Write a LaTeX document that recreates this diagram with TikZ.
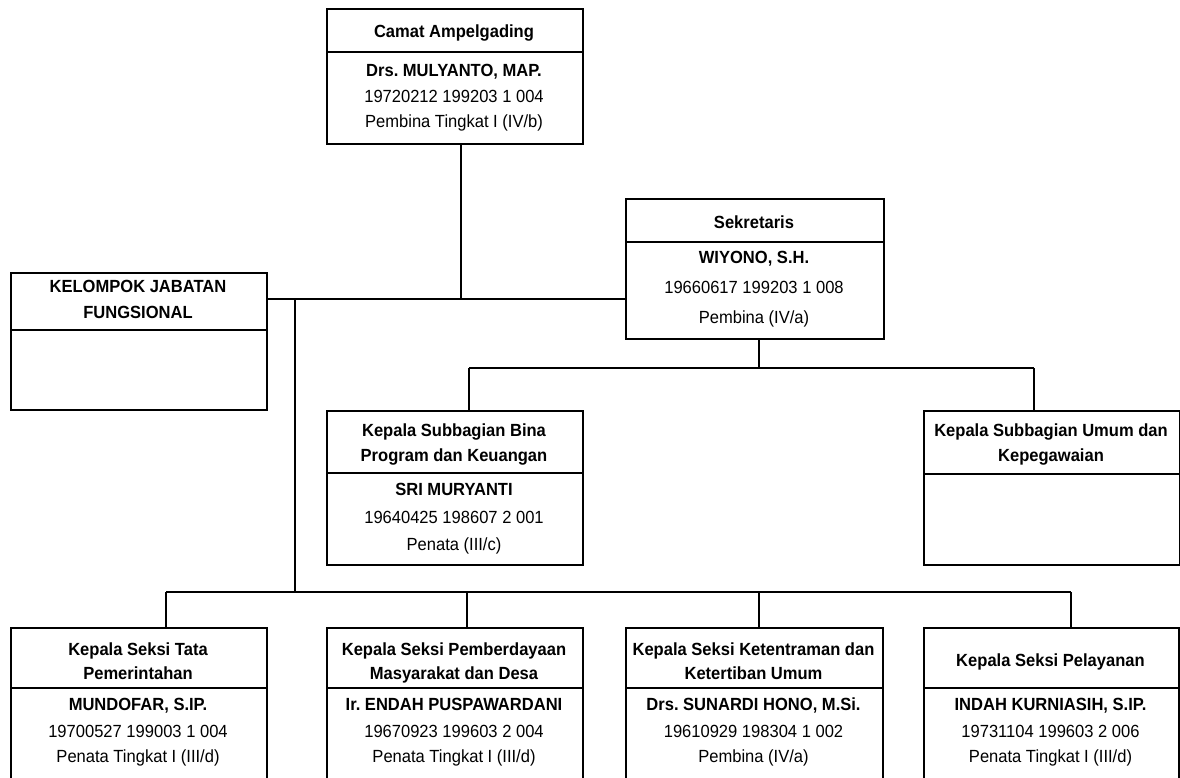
\documentclass[tikz,border=0pt]{standalone}
\usepackage{fontspec}
\setmainfont[FakeStretch=0.94]{Liberation Sans}
\frenchspacing
\begin{document}
\begin{tikzpicture}[x=1pt,y=-1pt,
  box/.style={draw,line width=2pt,inner sep=0pt,anchor=north west},
  divline/.style={line width=2pt},
  conn/.style={line width=1.4pt},
  hd/.style={anchor=base,inner sep=0pt,font=\fontsize{17.6}{20}\selectfont\bfseries},
  tx/.style={anchor=base,inner sep=0pt,font=\fontsize{17.6}{20}\selectfont}]
\useasboundingbox (0,0) rectangle (1180,778);
\fill[white] (0,0) rectangle (1180,778);

% Camat
\node[box,minimum width=256pt,minimum height=135pt] (camat) at (326,8) {};
\draw[divline] (326,52) -- (582,52);
\node[hd] (camatH) at (454,38) {Camat Ampelgading};
\node[hd] (camatA) at (454,77) {Drs. MULYANTO, MAP.};
\node[tx] (camatB) at (454,103) {19720212 199203 1 004};
\node[tx] (camatC) at (454,128) {Pembina Tingkat I (IV/b)};

% Sekretaris
\node[box,minimum width=258pt,minimum height=140pt] (sek) at (625,198) {};
\draw[divline] (625,242) -- (883,242);
\node[hd] (sekH) at (754,228) {Sekretaris};
\node[hd] (sekA) at (754,263) {WIYONO, S.H.};
\node[tx] (sekB) at (754,293) {19660617 199203 1 008};
\node[tx] (sekC) at (754,323) {Pembina (IV/a)};

% Kelompok
\node[box,minimum width=256pt,minimum height=137pt] (kel) at (10,272) {};
\draw[divline] (10,330) -- (266,330);
\node[hd] (kelH1) at (138,292) {KELOMPOK JABATAN};
\node[hd] (kelH2) at (138,318) {FUNGSIONAL};

% Bina Program
\node[box,minimum width=256pt,minimum height=154pt] (bina) at (326,410) {};
\draw[divline] (326,473) -- (582,473);
\node[hd] (binaH1) at (454,436) {Kepala Subbagian Bina};
\node[hd] (binaH2) at (454,461) {Program dan Keuangan};
\node[hd] (binaA) at (454,495) {SRI MURYANTI};
\node[tx] (binaB) at (454,523) {19640425 198607 2 001};
\node[tx] (binaC) at (454,550) {Penata (III/c)};

% Umum
\node[box,minimum width=256pt,minimum height=154pt] (umum) at (923,410) {};
\draw[divline] (923,474) -- (1179,474);
\node[hd] (umumH1) at (1051,436) {Kepala Subbagian Umum dan};
\node[hd] (umumH2) at (1051,461) {Kepegawaian};

% Bottom row
\node[box,minimum width=256pt,minimum height=156pt] (s1) at (10,627) {};
\node[box,minimum width=256pt,minimum height=156pt] (s2) at (326,627) {};
\node[box,minimum width=257pt,minimum height=156pt] (s3) at (625,627) {};
\node[box,minimum width=255pt,minimum height=156pt] (s4) at (923,627) {};
\draw[divline] (10,688) -- (266,688);
\draw[divline] (326,688) -- (582,688);
\draw[divline] (625,688) -- (882,688);
\draw[divline] (923,688) -- (1178,688);

\node[hd] (s1H1) at (138,655) {Kepala Seksi Tata};
\node[hd] (s1H2) at (138,679) {Pemerintahan};
\node[hd] (s1A) at (138,710) {MUNDOFAR, S.IP.};
\node[tx] (s1B) at (138,737) {19700527 199003 1 004};
\node[tx] (s1C) at (138,762) {Penata Tingkat I (III/d)};

\node[hd] (s2H1) at (454,655) {Kepala Seksi Pemberdayaan};
\node[hd] (s2H2) at (454,679) {Masyarakat dan Desa};
\node[hd] (s2A) at (454,710) {Ir. ENDAH PUSPAWARDANI};
\node[tx] (s2B) at (454,737) {19670923 199603 2 004};
\node[tx] (s2C) at (454,762) {Penata Tingkat I (III/d)};

\node[hd] (s3H1) at (753.5,655) {Kepala Seksi Ketentraman dan};
\node[hd] (s3H2) at (753.5,679) {Ketertiban Umum};
\node[hd] (s3A) at (753.5,710) {Drs. SUNARDI HONO, M.Si.};
\node[tx] (s3B) at (753.5,737) {19610929 198304 1 002};
\node[tx] (s3C) at (753.5,762) {Pembina (IV/a)};

\node[hd] (s4H) at (1050.5,666) {Kepala Seksi Pelayanan};
\node[hd] (s4A) at (1050.5,710) {INDAH KURNIASIH, S.IP.};
\node[tx] (s4B) at (1050.5,737) {19731104 199603 2 006};
\node[tx] (s4C) at (1050.5,762) {Penata Tingkat I (III/d)};

% Connectors
\coordinate (jc) at (461,299);
\draw[conn] (camat.south -| jc) -- (jc);
\draw[conn] (kel.east |- jc) -- (sek.west |- jc);
\coordinate (jl) at (295,299);
\coordinate (jb) at (295,592);
\draw[conn] (jl) -- (jb);
\coordinate (d1) at (166,592);
\coordinate (d2) at (467,592);
\coordinate (d3) at (759,592);
\coordinate (d4) at (1071,592);
\draw[conn] (d1) -- (d4);
\draw[conn] (d1) -- (d1 |- s1.north);
\draw[conn] (d2) -- (d2 |- s2.north);
\draw[conn] (d3) -- (d3 |- s3.north);
\draw[conn] (d4) -- (d4 |- s4.north);
\coordinate (ds) at (759,368);
\draw[conn] (sek.south -| ds) -- (ds);
\coordinate (e1) at (469,368);
\coordinate (e2) at (1034,368);
\draw[conn] (e1) -- (e2);
\draw[conn] (e1) -- (e1 |- bina.north);
\draw[conn] (e2) -- (e2 |- umum.north);
\end{tikzpicture}
\end{document}
